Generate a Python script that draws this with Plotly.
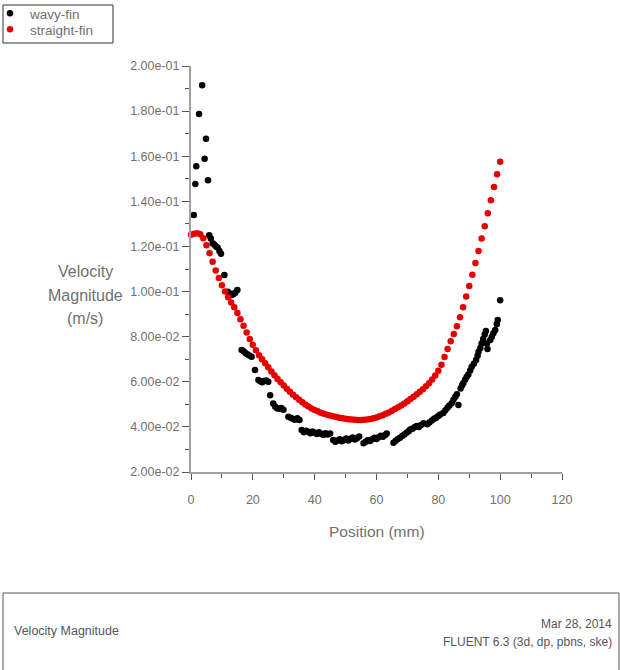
import plotly.graph_objects as go

# ---------------- data ----------------
wavy_x = [0.9, 1.4, 1.7, 2.6, 3.6, 4.4, 4.85, 5.5,
          5.9, 6.4, 7.0, 7.6, 8.1, 8.6, 9.2, 9.7,
          10.8,
          11.9, 12.5, 13.1, 13.7, 14.3, 15.0,
          16.4, 17.0, 17.6, 18.2, 18.9, 19.6,
          20.7,
          21.8, 22.4, 23.0, 23.6, 24.3, 25.0,
          25.6,
          26.6, 27.2, 27.8, 28.5, 29.2, 29.9,
          31.5, 32.2, 32.9, 33.6, 34.4, 35.1,
          35.8, 36.5, 37.2, 37.9, 38.6, 39.3, 40.0, 40.7, 41.4, 42.1, 42.8, 43.5, 44.2, 45.0,
          46.0, 46.7, 47.4, 48.1, 48.8, 49.5, 50.2, 50.9, 51.6, 52.3, 53.0, 53.7, 54.4,
          55.8, 56.5, 57.2, 57.9, 58.6, 59.3, 60.0, 60.7, 61.4, 62.1, 62.8, 63.3,
          65.5, 66.2, 66.9, 67.6, 68.3, 69.0, 69.7, 70.4, 70.9,
          71.6, 72.3, 73.0, 73.7, 74.4, 75.2,
          76.4, 77.1, 77.9, 78.6, 79.3, 80.0, 80.6,
          81.6, 82.3, 83.0, 83.6,
          84.3, 84.9, 85.5, 86.0, 86.5,
          87.2, 87.7, 88.1, 88.7, 89.2, 89.7, 90.3, 90.8,
          91.5, 92.2, 92.7,
          93.0, 93.6, 94.0, 94.5, 95.0, 95.4, 95.7, 95.9,
          96.8, 97.3, 97.8, 98.4, 98.9, 99.2, 100.0]
wavy_v = [0.1339, 0.1477, 0.1556, 0.1787, 0.1915, 0.1589, 0.1677, 0.1493,
          0.1250, 0.1235, 0.1214, 0.1208, 0.1200, 0.1195, 0.1180, 0.1168,
          0.1073,
          0.0999, 0.0992, 0.0985, 0.0988, 0.0995, 0.1007,
          0.0741, 0.0735, 0.0728, 0.0722, 0.0716, 0.0711,
          0.0652,
          0.0608, 0.0602, 0.0598, 0.0603, 0.0606, 0.0600,
          0.0540,
          0.0504, 0.0490, 0.0483, 0.0480, 0.0484, 0.0476,
          0.0445, 0.0440, 0.0436, 0.0432, 0.0438, 0.0430,
          0.0386, 0.0376, 0.0383, 0.0378, 0.0372, 0.0380, 0.0374, 0.0368, 0.0376, 0.0370, 0.0364, 0.0372, 0.0366, 0.0371,
          0.0342, 0.0334, 0.0340, 0.0345, 0.0336, 0.0342, 0.0349, 0.0340, 0.0347, 0.0353, 0.0344, 0.0350, 0.0357,
          0.0327, 0.0334, 0.0341, 0.0337, 0.0345, 0.0352, 0.0346, 0.0354, 0.0361, 0.0356, 0.0364, 0.0371,
          0.0330, 0.0338, 0.0346, 0.0352, 0.0360, 0.0366, 0.0374, 0.0381, 0.0388,
          0.0392, 0.0398, 0.0404, 0.0400, 0.0408, 0.0416,
          0.0412, 0.0420, 0.0428, 0.0436, 0.0441, 0.0448, 0.0455,
          0.0462, 0.0474, 0.0486, 0.0495,
          0.0505, 0.0520, 0.0534, 0.0545, 0.0497,
          0.0570, 0.0585, 0.0595, 0.0610, 0.0622, 0.0632, 0.0650, 0.0667,
          0.0680, 0.0696, 0.0715,
          0.0733, 0.0750, 0.0770, 0.0790, 0.0810, 0.0825, 0.0770, 0.0745,
          0.0785, 0.0800, 0.0815, 0.0830, 0.0855, 0.0874, 0.0962]

straight_x = [0, 1, 2, 3, 4, 5, 6, 7, 8, 9, 10, 11, 12, 13, 14, 15, 16, 17, 18, 19, 20,
              21, 22, 23, 24, 25, 26, 27, 28, 29, 30, 31, 32, 33, 34, 35, 36, 37, 38, 39, 40,
              41, 42, 43, 44, 45, 46, 47, 48, 49, 50, 51, 52, 53, 54, 55, 56, 57, 58, 59, 60,
              61, 62, 63, 64, 65, 66, 67, 68, 69, 70, 71, 72, 73, 74, 75, 76, 77, 78, 79, 80,
              81, 82, 83, 84, 85, 86, 87, 88, 89, 90, 91, 92, 93, 94, 95, 96, 97, 98, 99, 100]
straight_v = [0.1252, 0.1256, 0.1258, 0.1254, 0.1236, 0.1205, 0.1170, 0.1132, 0.1093, 0.1060,
              0.1028, 0.1000, 0.0975, 0.0952, 0.0930, 0.0905, 0.0877, 0.0848, 0.0818, 0.0790,
              0.0764, 0.0740, 0.0718, 0.0700, 0.0682, 0.0664, 0.0646, 0.0629, 0.0612, 0.0598,
              0.0583, 0.0569, 0.0556, 0.0543, 0.0531, 0.0520, 0.0509, 0.0499, 0.0490, 0.0482,
              0.0475, 0.0469, 0.0463, 0.0458, 0.0454, 0.0450, 0.0447, 0.0444, 0.0441, 0.0438,
              0.0436, 0.0434, 0.0433, 0.0432, 0.0431, 0.0431, 0.0432, 0.0433, 0.0435, 0.0438,
              0.0442, 0.0447, 0.0452, 0.0458, 0.0464, 0.0471, 0.0479, 0.0487, 0.0495, 0.0504,
              0.0514, 0.0524, 0.0534, 0.0545, 0.0556, 0.0567, 0.0580, 0.0594, 0.0610, 0.0628,
              0.0649, 0.0676, 0.0710, 0.0745, 0.0780, 0.0812, 0.0846, 0.0886, 0.0930, 0.0978,
              0.1025, 0.1075, 0.1127, 0.1180, 0.1235, 0.1290, 0.1347, 0.1405, 0.1463, 0.1520,
              0.1575]

y_tickvals = [0.02, 0.04, 0.06, 0.08, 0.10, 0.12, 0.14, 0.16, 0.18, 0.20]
y_ticktext = ["2.00e-02", "4.00e-02", "6.00e-02", "8.00e-02", "1.00e-01",
              "1.20e-01", "1.40e-01", "1.60e-01", "1.80e-01", "2.00e-01"]
x_tickvals = [0, 20, 40, 60, 80, 100, 120]
x_ticktext = ["0", "20", "40", "60", "80", "100", "120"]

series_names = ["wavy-fin", "straight-fin"]
y_title_lines = ["Velocity", "Magnitude", "(m/s)"]
x_title = "Position (mm)"
footer_left = "Velocity Magnitude"
footer_right = ["Mar 28, 2014", "FLUENT 6.3 (3d, dp, pbns, ske)"]

# ---------------- layout geometry ----------------
W, H = 620, 670
L, R, T, B = 191, 58, 66, 198
PW, PH = W - L - R, H - T - B


def px(x):
    return (x - L) / PW


def py(y):
    return (H - B - y) / PH


FONT = "Liberation Sans, Arial, sans-serif"
TXT = "#707070"

fig = go.Figure()
fig.add_trace(go.Scatter(x=wavy_x, y=wavy_v, mode="markers", name=series_names[0],
                         marker=dict(color="#000000", size=6.5), cliponaxis=False,
                         legend="legend"))
fig.add_trace(go.Scatter(x=straight_x, y=straight_v, mode="markers", name=series_names[1],
                         marker=dict(color="#e60000", size=6.5), cliponaxis=False,
                         legend="legend2"))

axis_common = dict(showgrid=False, zeroline=False, showline=True, linecolor="#a0a0a0",
                   linewidth=2, ticks="outside", tickcolor="#555555", tickwidth=1,
                   tickfont=dict(family=FONT, size=12.5, color=TXT), fixedrange=True,
                   automargin=False)

fig.update_xaxes(range=[0, 120], tickmode="array", tickvals=x_tickvals, ticktext=x_ticktext,
                 ticklen=6, ticklabelstandoff=9,
                 minor=dict(tickmode="linear", tick0=0, dtick=10, ticklen=4, ticks="outside",
                            tickcolor="#555555"),
                 **axis_common)
fig.update_yaxes(range=[0.02, 0.20], tickmode="array", tickvals=y_tickvals, ticktext=y_ticktext,
                 ticklen=7,
                 minor=dict(tickmode="linear", tick0=0.02, dtick=0.01, ticklen=4, ticks="outside",
                            tickcolor="#555555"),
                 **axis_common)

annotations = []
for line, ypix in zip(y_title_lines, [271, 295, 318]):
    annotations.append(dict(text=line, x=px(85), y=py(ypix), xref="paper", yref="paper",
                            xanchor="center", yanchor="middle", showarrow=False,
                            font=dict(family=FONT, size=16, color=TXT)))
annotations.append(dict(text=x_title, x=px(377), y=py(531), xref="paper", yref="paper",
                        xanchor="center", yanchor="middle", showarrow=False,
                        font=dict(family=FONT, size=15.5, color=TXT)))
annotations.append(dict(text=footer_left, x=px(12), y=py(631), xref="paper", yref="paper",
                        xanchor="left", yanchor="middle", showarrow=False,
                        font=dict(family=FONT, size=12.5, color="#555555")))
for line, ypix in zip(footer_right, [624, 642]):
    annotations.append(dict(text=line, x=px(614), y=py(ypix), xref="paper", yref="paper",
                            xanchor="right", yanchor="middle", showarrow=False,
                            font=dict(family=FONT, size=12, color="#555555")))

shapes = [
    # legend frame
    dict(type="rect", xref="paper", yref="paper", x0=px(3), x1=px(113), y0=py(43), y1=py(5),
         line=dict(color="#333333", width=1)),
    # footer frame
    dict(type="rect", xref="paper", yref="paper", x0=px(3), x1=px(619), y0=py(676), y1=py(593),
         line=dict(color="#555555", width=1)),
]

legend_common = dict(xref="paper", yref="paper", x=px(-10), xanchor="left", yanchor="top",
                     bgcolor="rgba(0,0,0,0)", borderwidth=0,
                     font=dict(family=FONT, size=13.5, color=TXT), itemwidth=30)

fig.update_layout(
    width=W, height=H,
    margin=dict(l=L, r=R, t=T, b=B, pad=0, autoexpand=False),
    paper_bgcolor="white", plot_bgcolor="white",
    showlegend=True,
    legend=dict(y=py(-2), **legend_common),
    legend2=dict(y=py(14), **legend_common),
    annotations=annotations,
    shapes=shapes,
)

fig.write_html("out.html")
